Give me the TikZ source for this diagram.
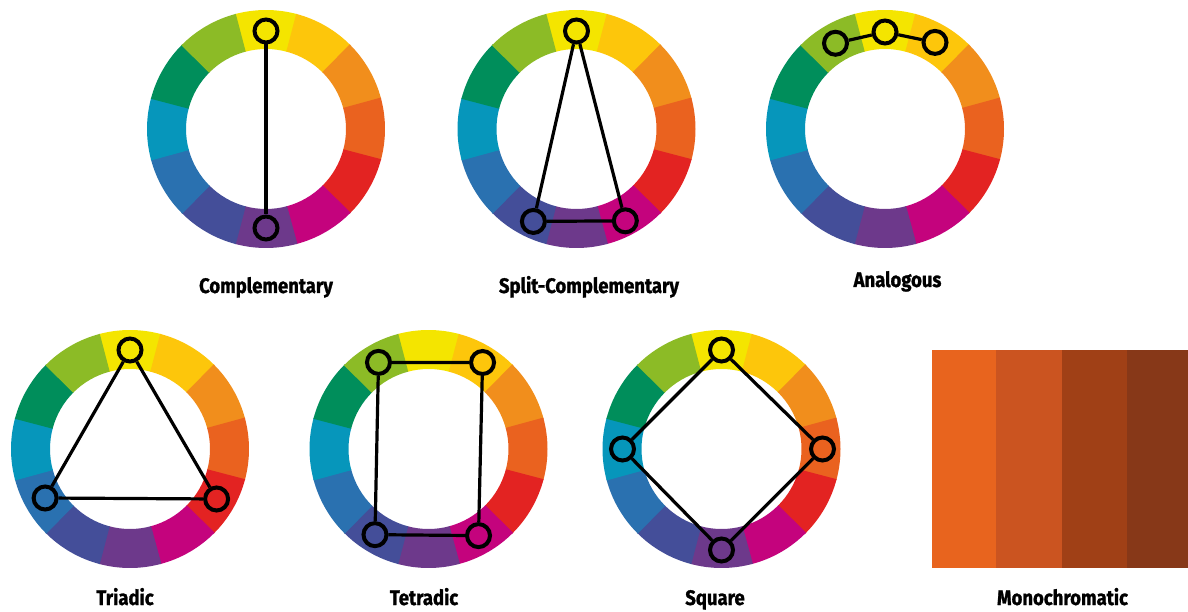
\documentclass[tikz,border=0pt]{standalone}
\usepackage{fontspec}
\setmainfont{Fira Sans}
\newfontfamily\lblfont{Fira Sans}[FakeStretch=0.88,FakeBold=1.2]
\definecolor{cY}{HTML}{F4E500}
\definecolor{cYO}{HTML}{FDC60B}
\definecolor{cO}{HTML}{F18E1C}
\definecolor{cRO}{HTML}{EA621F}
\definecolor{cR}{HTML}{E32322}
\definecolor{cM}{HTML}{C4037D}
\definecolor{cP}{HTML}{6D398B}
\definecolor{cBV}{HTML}{444E99}
\definecolor{cB}{HTML}{2A71B0}
\definecolor{cC}{HTML}{0696BB}
\definecolor{cG}{HTML}{008E5B}
\definecolor{cYG}{HTML}{8CBB26}
\definecolor{m1}{HTML}{E8641E}
\definecolor{m2}{HTML}{CB5420}
\definecolor{m3}{HTML}{A04016}
\definecolor{m4}{HTML}{873818}
\newcommand\colwheel[1]{%
  \foreach \a/\c in {90/cY,60/cYO,30/cO,0/cRO,-30/cR,-60/cM,-90/cP,-120/cBV,-150/cB,180/cC,150/cG,120/cYG}{%
    \fill[\c] ([shift={(\a-15.3:119pt)}]#1) arc[start angle=\a-15.3, end angle=\a+15.3, radius=119pt]
      -- ([shift={(\a+15.3:80pt)}]#1) arc[start angle=\a+15.3, end angle=\a-15.3, radius=80pt] -- cycle;
  }%
}
\tikzset{
  mk/.style={circle, draw=black, line width=4pt, minimum size=23pt, inner sep=0pt},
  cn/.style={draw=black, line width=3.2pt},
  lbl/.style={anchor=base, font=\lblfont\bfseries\fontsize{21}{24}\selectfont, inner sep=0pt}
}
\begin{document}
\begin{tikzpicture}[x=1pt,y=1pt]
\useasboundingbox (0,0) rectangle (1188,611);
% centers
\coordinate (w1) at (266,482);
\coordinate (w2) at (576.5,482);
\coordinate (w3) at (885,482);
\coordinate (w4) at (130,162);
\coordinate (w5) at (428.5,162);
\coordinate (w6) at (721.5,162);
\colwheel{w1}\colwheel{w2}\colwheel{w3}\colwheel{w4}\colwheel{w5}\colwheel{w6}
% Complementary
\node[mk] (c1) at ([shift={(90:98pt)}]w1) {};
\node[mk] (c2) at ([shift={(-90:99pt)}]w1) {};
\draw[cn] (c1) -- (c2);
% Split-Complementary
\node[mk] (s1) at ([shift={(90:98pt)}]w2) {};
\node[mk] (s2) at ([shift={(-115:102pt)}]w2) {};
\node[mk] (s3) at ([shift={(-62:104pt)}]w2) {};
\draw[cn] (s1) -- (s2);
\draw[cn] (s1) -- (s3);
\draw[cn] (s2) -- (s3);
% Analogous
\node[mk] (a1) at ([shift={(120:99pt)}]w3) {};
\node[mk] (a2) at ([shift={(90:97pt)}]w3) {};
\node[mk] (a3) at ([shift={(60:100pt)}]w3) {};
\draw[cn] (a1) -- (a2);
\draw[cn] (a2) -- (a3);
% Triadic
\node[mk] (t1) at ([shift={(90:99pt)}]w4) {};
\node[mk] (t2) at ([shift={(210:98pt)}]w4) {};
\node[mk] (t3) at ([shift={(-30:100pt)}]w4) {};
\draw[cn] (t1) -- (t2);
\draw[cn] (t1) -- (t3);
\draw[cn] (t2) -- (t3);
% Tetradic
\node[mk] (q1) at ([shift={(120:100pt)}]w5) {};
\node[mk] (q2) at ([shift={(58:102pt)}]w5) {};
\node[mk] (q3) at ([shift={(-122:101pt)}]w5) {};
\node[mk] (q4) at ([shift={(-60:100pt)}]w5) {};
\draw[cn] (q1) -- (q2);
\draw[cn] (q1) -- (q3);
\draw[cn] (q2) -- (q4);
\draw[cn] (q3) -- (q4);
% Square
\node[mk] (p1) at ([shift={(90:99pt)}]w6) {};
\node[mk] (p2) at ([shift={(0:101pt)}]w6) {};
\node[mk] (p3) at ([shift={(-90:101pt)}]w6) {};
\node[mk] (p4) at ([shift={(180:99pt)}]w6) {};
\draw[cn] (p1) -- (p2);
\draw[cn] (p2) -- (p3);
\draw[cn] (p3) -- (p4);
\draw[cn] (p4) -- (p1);
% Monochromatic
\fill[m1] (932,43) rectangle (997,261);
\fill[m2] (996,43) rectangle (1063,261);
\fill[m3] (1062,43) rectangle (1128,261);
\fill[m4] (1127,43) rectangle (1188,261);
% labels
\node[lbl] (l1) at (266,318) {Complementary};
\node[lbl] (l2) at (589,318) {Split-Complementary};
\node[lbl] (l3) at (897.5,324) {Analogous};
\node[lbl] (l4) at (125,6) {Triadic};
\node[lbl] (l5) at (424,6) {Tetradic};
\node[lbl] (l6) at (715,6) {Square};
\node[lbl] (l7) at (1062.5,6) {Monochromatic};
\end{tikzpicture}
\end{document}
